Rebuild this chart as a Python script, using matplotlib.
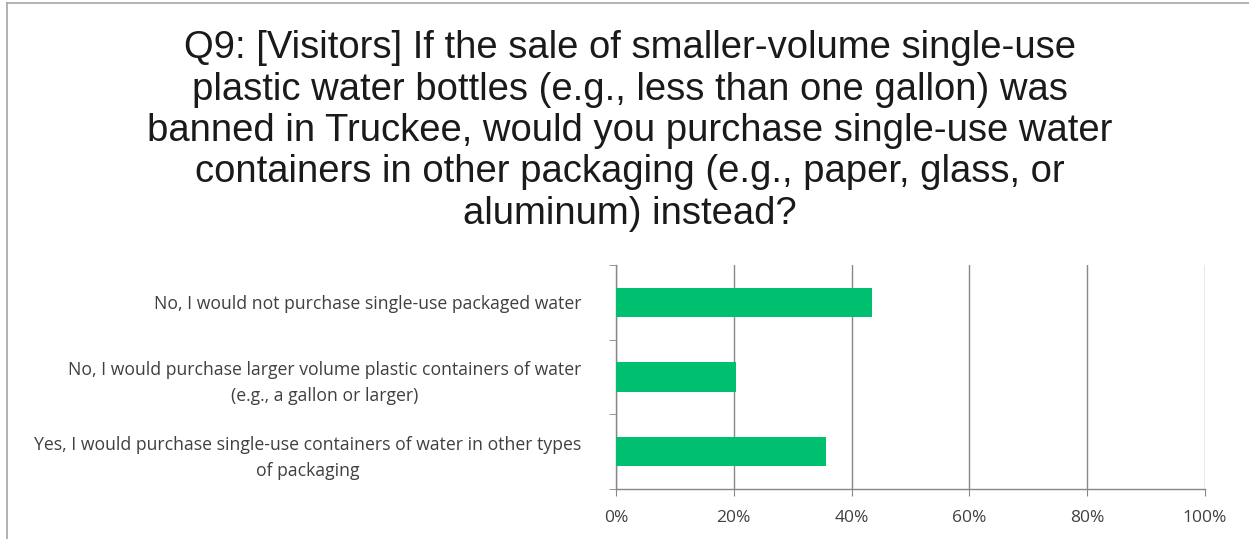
import matplotlib
matplotlib.use("Agg")
import matplotlib.pyplot as plt
from matplotlib.lines import Line2D

title = ("Q9: [Visitors] If the sale of smaller-volume single-use\n"
         "plastic water bottles (e.g., less than one gallon) was\n"
         "banned in Truckee, would you purchase single-use water\n"
         "containers in other packaging (e.g., paper, glass, or\n"
         "aluminum) instead?")
categories = [
    "No, I would not purchase single-use packaged water",
    "No, I would purchase larger volume plastic containers of water\n(e.g., a gallon or larger)",
    "Yes, I would purchase single-use containers of water in other types\nof packaging",
]
values = [43.5, 20.3, 35.6]
xticks = [0, 20, 40, 60, 80, 100]
xticklabels = ["0%", "20%", "40%", "60%", "80%", "100%"]

W, H = 1249, 539
fig = plt.figure(figsize=(W / 100, H / 100), dpi=100)
fig.patch.set_facecolor("white")

# frame lines (top and left border)
grey = "#a6a6a6"
fig.add_artist(Line2D([7 / W, 1], [1 - 3 / H, 1 - 3 / H], color=grey, lw=1.2))
fig.add_artist(Line2D([7 / W, 7 / W], [0, 1 - 3 / H], color=grey, lw=1.2))

fig.text(630 / W, 1 - 131 / H, title, ha="center", va="center",
         fontsize=27.5, family="Liberation Sans", color="#1a1a1a",
         linespacing=1.19)

ax = fig.add_axes([616 / W, 1 - 489 / H, (1205 - 616) / W, (489 - 265) / H])
n = len(categories)
ypos = list(range(n))
ax.barh(ypos, values, height=0.39, color="#00BF6F", zorder=3)
ax.set_xlim(0, 100)
ax.set_ylim(n - 0.5, -0.5)

ax.set_xticks(xticks)
ax.set_xticklabels(xticklabels, family="Open Sans", fontsize=12.5, color="#404040")
ax.tick_params(axis="x", length=5, color="#878787", pad=10)
ax.xaxis.grid(True, color="#878787", lw=1.0, zorder=0)

ax.set_yticks(ypos)
ax.set_yticklabels(categories, family="Open Sans", fontsize=12.7, color="#404040",
                   multialignment="center", linespacing=1.6)
ax.tick_params(axis="y", length=0, pad=25)
ax.set_yticks([i - 0.5 for i in range(n + 1)], minor=True)
ax.tick_params(axis="y", which="minor", length=5, color="#878787")

for s in ["top", "right"]:
    ax.spines[s].set_visible(False)
for s in ["left", "bottom"]:
    ax.spines[s].set_color("#878787")
    ax.spines[s].set_linewidth(1.0)

fig.savefig("out.png", dpi=100, facecolor="white")
